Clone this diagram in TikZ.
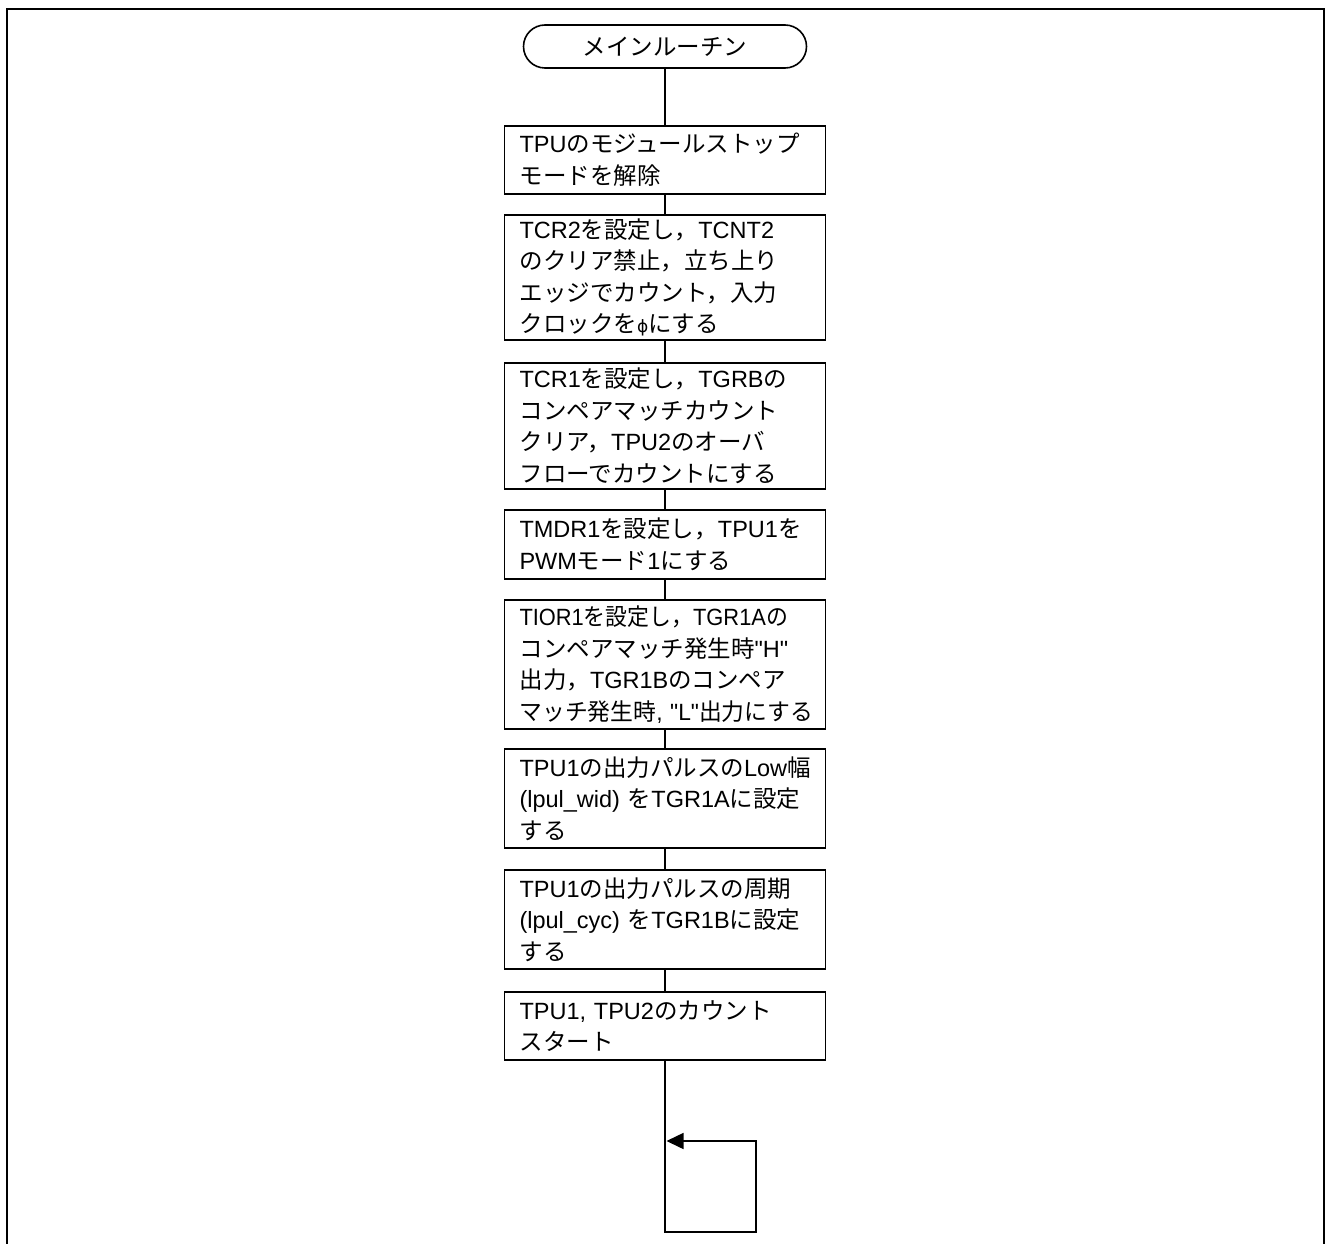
\documentclass[tikz,border=0pt]{standalone}
\usepackage{fontspec}
\setmainfont{Liberation Sans}
\newfontfamily\lsfont{Liberation Sans}
\newfontfamily\jpfont{Noto Sans CJK JP}
\newfontfamily\dvfont{DejaVu Sans}
\usetikzlibrary{arrows.meta}
\newcommand\J[1]{{\jpfont #1}}
\newcommand\fz{\lsfont\fontsize{23.5}{31.5}\selectfont}
\tikzset{
  frame/.style={line width=2pt},
  conn/.style={line width=1.5pt},
  stepbox/.style={draw, line width=1.8pt, rectangle, anchor=north, minimum width=321pt,
    text width=291pt, inner xsep=15pt, inner ysep=0pt, align=left, font=\fz},
  term/.style={draw, line width=1.6pt, rectangle, rounded corners=21.5pt,
    minimum width=283pt, minimum height=43pt, inner sep=0pt, font=\fz},
}
\begin{document}
\begin{tikzpicture}[x=1pt,y=-1pt]
\useasboundingbox (0,0) rectangle (1326,1244);
\draw[frame] (7,1244) -- (7,9) -- (1324,9) -- (1324,1244);

\node[term] (t) at (665,46.5) {\J{メインルーチン}};

\node[stepbox, minimum height=68pt] (b1) at (665,125)
  {TPU\J{のモジュールストップ}\\\J{モードを解除}};
\node[stepbox, minimum height=125pt] (b2) at (665,214)
  {TCR2\J{を設定し，}TCNT2\\\J{のクリア禁止，立ち上り}\\\J{エッジでカウント，入力}\\\J{クロックを}{\dvfont\fontsize{17}{17}\selectfont ϕ}\J{にする}};
\node[stepbox, minimum height=126pt] (b3) at (665,362)
  {TCR1\J{を設定し，}TGRB\J{の}\\\J{コンペアマッチカウント}\\\J{クリア，}TPU2\J{のオーバ}\\\J{フローでカウントにする}};
\node[stepbox, minimum height=69pt] (b4) at (665,509)
  {TMDR1\J{を設定し，}TPU1\J{を}\\PWM\J{モード}1\J{にする}};
\node[stepbox, minimum height=129pt] (b5) at (665,599)
  {\scalebox{0.93}[1]{TIOR1\J{を設定し，}TGR1A\J{の}}\\\J{コンペアマッチ発生時}"H"\\\J{出力，}TGR1B\J{のコンペア}\\\scalebox{0.97}[1]{\J{マッチ発生時},~"L"\J{出力にする}}};
\node[stepbox, minimum height=99pt] (b6) at (665,748)
  {TPU1\J{の出力パルスの}Low\J{幅}\\(lpul\_wid)~\J{を}TGR1A\J{に設定}\\\J{する}};
\node[stepbox, minimum height=99pt] (b7) at (665,869)
  {TPU1\J{の出力パルスの周期}\\(lpul\_cyc)~\J{を}TGR1B\J{に設定}\\\J{する}};
\node[stepbox, minimum height=68pt] (b8) at (665,991)
  {TPU1,~TPU2\J{のカウント}\\\J{スタート}};

\draw[conn] (t.south) -- (b1.north);
\draw[conn] (b1.south) -- (b2.north);
\draw[conn] (b2.south) -- (b3.north);
\draw[conn] (b3.south) -- (b4.north);
\draw[conn] (b4.south) -- (b5.north);
\draw[conn] (b5.south) -- (b6.north);
\draw[conn] (b6.south) -- (b7.north);
\draw[conn] (b7.south) -- (b8.north);

\coordinate (l1) at (665,1232);
\coordinate (l2) at (756,1232);
\coordinate (l3) at (756,1141);
\coordinate (l4) at (666.5,1141);
\draw[conn, -{Triangle[length=17pt,width=16pt]}] (b8.south) -- (l1) -- (l2) -- (l3) -- (l4);
\end{tikzpicture}
\end{document}
